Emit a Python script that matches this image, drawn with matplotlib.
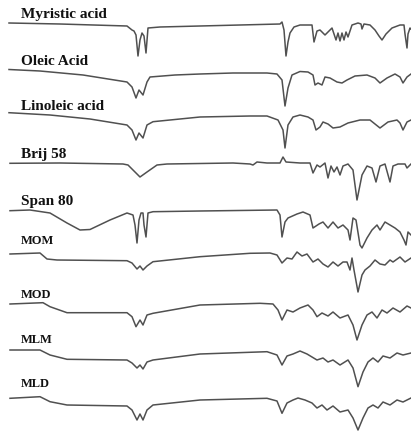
"""Stacked FTIR spectra of fatty acids, surfactants and the four blends."""

import matplotlib
matplotlib.use("Agg")
import matplotlib.pyplot as plt

# each trace: (position, stacked transmittance) points
myristic = [(9, 23), (60, 24), (127, 26), (132, 30), (134, 31), (136, 35), (138, 56), (140, 40),
            (142, 33), (144, 36), (146, 53), (148, 28), (160, 27), (200, 26), (240, 25), (280, 24),
            (282, 22), (284, 30), (286, 56), (288, 42), (290, 33), (294, 27), (300, 25), (312, 25),
            (314, 42), (317, 31), (320, 30), (325, 35), (332, 28), (334, 34), (336, 40), (338, 33),
            (340, 41), (342, 33), (344, 40), (346, 32), (348, 37), (352, 25), (358, 23), (361, 24),
            (362, 29), (364, 24), (370, 25), (375, 30), (379, 36), (382, 40), (386, 34), (392, 28),
            (400, 25), (404, 25), (405, 34), (407, 48), (408, 34), (410, 28), (411, 29)]
oleic = [(9, 69.5), (40, 71), (83, 75), (127, 82), (132, 87), (136, 98), (139, 90), (143, 95),
         (147, 82), (150, 77), (175, 75), (200, 74), (233, 73), (267, 73), (277, 74), (282, 80),
         (285, 106), (288, 88), (292, 75), (300, 71.5), (308, 72), (313, 75), (315, 85), (318, 83),
         (322, 85), (325, 77), (330, 78), (337, 82), (342, 83), (347, 80), (355, 76), (367, 75),
         (375, 78), (380, 83), (387, 78), (395, 74), (400, 77), (403, 83), (407, 77), (411, 74)]
linoleic = [(9, 112.7), (50, 115), (90, 119), (127, 125), (132, 130), (136, 140), (139, 133),
            (143, 138), (147, 125), (153, 121.7), (200, 117), (250, 116), (267, 116), (278, 120),
            (283, 130), (285, 148), (288, 125), (293, 117), (300, 115), (308, 117), (313, 120),
            (316, 130), (320, 127), (323, 122), (328, 124), (333, 128), (340, 127), (348, 123),
            (360, 120), (370, 120), (380, 128), (388, 122), (397, 120), (400, 123), (403, 130),
            (407, 122), (411, 120)]
brij58 = [(10, 163.3), (60, 163), (123, 164), (128, 165), (133, 170), (140, 177), (147, 172),
          (157, 165), (167, 164), (233, 163), (250, 164), (253, 165), (257, 162), (267, 163),
          (280, 163), (283, 157), (286, 162), (300, 163), (310, 163), (313, 173), (317, 165),
          (320, 167), (325, 163), (328, 178), (331, 166), (334, 172), (337, 167), (340, 175),
          (343, 166), (348, 164), (353, 170), (357, 200), (362, 175), (367, 166), (372, 168),
          (376, 182), (380, 166), (385, 164), (390, 182), (393, 166), (398, 164), (405, 164),
          (407, 168), (411, 164)]
span80 = [(10, 210.7), (30, 210), (50, 213), (67, 223), (80, 230), (90, 229.5), (110, 220),
          (127, 213), (133, 215), (135, 225), (137, 243), (139, 220), (141, 213), (143, 213),
          (144, 225), (146, 237), (148, 213), (153, 211.7), (200, 211), (277, 210), (280, 215),
          (282, 237), (285, 222), (288, 218), (297, 214), (303, 212), (310, 215), (313, 228),
          (316, 226), (319, 224), (323, 222), (328, 228), (333, 222), (338, 228), (343, 225),
          (348, 230), (350, 240), (353, 218), (356, 220), (360, 245), (362, 248), (367, 238),
          (372, 230), (377, 225), (380, 230), (385, 222), (390, 225), (395, 228), (400, 232),
          (404, 240), (406, 245), (408, 232), (411, 235)]
mom = [(10, 254), (40, 253), (47, 259), (57, 260), (127, 260.7), (132, 263), (137, 269), (140, 266),
       (143, 270), (147, 266), (153, 261.7), (200, 256.7), (250, 253.3), (270, 253), (277, 255),
       (282, 263), (287, 258), (292, 259), (297, 252), (302, 256), (307, 254), (313, 262),
       (318, 259), (323, 264), (328, 267), (333, 262), (338, 266), (343, 262), (347, 262),
       (350, 270), (352, 258), (354, 270), (358, 292), (362, 275), (365, 270), (370, 266),
       (375, 260), (380, 264), (385, 265), (390, 260), (393, 262), (400, 257), (405, 262),
       (411, 258)]
mod = [(10, 304), (43, 302.7), (50, 306.7), (67, 312.7), (127, 312.7), (132, 316.7), (136, 326.7),
       (140, 320), (143, 325), (147, 315), (153, 313.3), (200, 305), (260, 303.3), (273, 304),
       (278, 310), (282, 320), (287, 310), (293, 312), (300, 308), (308, 305), (313, 310),
       (317, 316.7), (322, 313), (328, 316), (333, 312), (340, 318), (348, 315), (353, 325),
       (357, 340), (362, 325), (367, 315), (372, 312), (377, 318), (382, 310), (387, 313),
       (393, 308), (400, 312), (407, 306), (411, 308)]
mlm = [(10, 350), (40, 350), (50, 355), (67, 359.3), (127, 360), (132, 363), (137, 368), (140, 365),
       (143, 369), (147, 362), (153, 360), (200, 354), (267, 351.7), (277, 355), (282, 365),
       (287, 356), (293, 354), (300, 351), (307, 354), (312, 357), (317, 360), (323, 358),
       (328, 362), (333, 360), (340, 365), (348, 360), (353, 368), (358, 386.7), (363, 372),
       (368, 362), (373, 358), (378, 362), (383, 356), (390, 358), (397, 353), (403, 355),
       (411, 353)]
mld = [(10, 398.3), (40, 396.7), (50, 401.7), (67, 405), (127, 406), (132, 410), (137, 420),
       (140, 414), (143, 420), (147, 410), (153, 405), (200, 400), (267, 398.3), (277, 401),
       (282, 413.3), (287, 403), (293, 400), (298, 398), (305, 400), (312, 403), (317, 408),
       (322, 405), (327, 410), (333, 406), (340, 412), (348, 410), (353, 418), (358, 430),
       (363, 418), (368, 408), (373, 405), (378, 408), (383, 402), (390, 405), (397, 400),
       (403, 402), (411, 398)]

traces = [myristic, oleic, linoleic, brij58, span80, mom, mod, mlm, mld]
names = ["Myristic acid", "Oleic Acid", "Linoleic acid", "Brij 58", "Span 80",
         "MOM", "MOD", "MLM", "MLD"]

# label baselines and sizes (layout only)
label_y = [18, 65, 110, 158, 205, 244, 298, 343, 387]
label_size = [11, 11, 11, 11, 11, 9, 9, 9, 9]


def main() -> None:
    fig = plt.figure(figsize=(4.11, 4.33), dpi=100)
    ax = fig.add_axes([0, 0, 1, 1])

    for pts in traces:
        xs = [p[0] for p in pts]
        ys = [p[1] for p in pts]
        ax.plot(xs, ys, color="#505050", linewidth=1.1, solid_joinstyle="round")

    for name, y, size in zip(names, label_y, label_size):
        ax.text(21, y, name, fontsize=size, fontweight="bold", family="Liberation Serif",
                va="baseline", ha="left", color="#111111")

    ax.set_xlim(0, 411)
    ax.set_ylim(433, 0)
    ax.axis("off")
    fig.savefig("out.png", dpi=100, facecolor="white")


if __name__ == "__main__":
    main()
